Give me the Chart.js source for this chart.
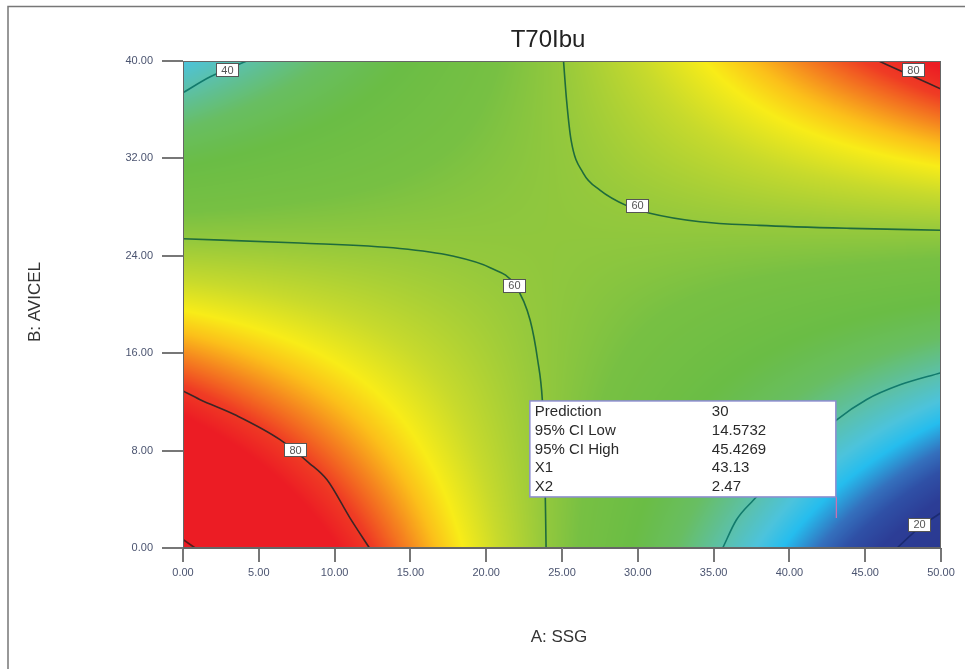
<!DOCTYPE html>
<html>
<head>
<meta charset="utf-8">
<script src="https://cdn.jsdelivr.net/npm/chart.js@4.4.1/dist/chart.umd.min.js"></script>
<style>
html,body{margin:0;padding:0;background:#fff;}
#wrap{width:965px;height:669px;position:relative;}
</style>
</head>
<body>
<div id="wrap"><canvas id="c" width="965" height="669"></canvas></div>
<script>
// ---- data ----
const chartTitle = "T70Ibu";
const xAxisTitle = "A: SSG";
const yAxisTitle = "B: AVICEL";
const xTickValues = [0, 5, 10, 15, 20, 25, 30, 35, 40, 45, 50];
const yTickValues = [0, 8, 16, 24, 32, 40];

// grid of the response surface (rows = B: AVICEL, columns = A: SSG)
const ssgGrid = [0, 5, 10, 15, 20, 25, 30, 35, 40, 45, 50];
const avicelGrid = [0, 4, 8, 12, 16, 20, 24, 28, 32, 36, 40];
const t70_B00 = [100.6, 92.0, 83.5, 74.9, 66.4, 57.8, 49.3, 40.7, 32.2, 23.7, 15.1];
const t70_B04 = [94.1, 86.9, 79.7, 72.5, 65.3, 58.0, 50.8, 43.6, 36.4, 29.2, 22.0];
const t70_B08 = [87.6, 81.8, 75.9, 70.0, 64.1, 58.3, 52.4, 46.5, 40.6, 34.8, 28.9];
const t70_B12 = [81.2, 76.6, 72.1, 67.6, 63.0, 58.5, 53.9, 49.4, 44.9, 40.3, 35.8];
const t70_B16 = [74.7, 71.5, 68.3, 65.1, 61.9, 58.7, 55.5, 52.3, 49.1, 45.9, 42.7];
const t70_B20 = [68.2, 66.4, 64.5, 62.6, 60.8, 58.9, 57.0, 55.2, 53.3, 51.4, 49.6];
const t70_B24 = [61.8, 61.3, 60.7, 60.2, 59.6, 59.1, 58.6, 58.0, 57.5, 57.0, 56.4];
const t70_B28 = [55.3, 56.1, 56.9, 57.7, 58.5, 59.3, 60.1, 60.9, 61.7, 62.5, 63.3];
const t70_B32 = [48.9, 51.0, 53.1, 55.3, 57.4, 59.5, 61.7, 63.8, 66.0, 68.1, 70.2];
const t70_B36 = [42.4, 45.9, 49.3, 52.8, 56.3, 59.8, 63.2, 66.7, 70.2, 73.6, 77.1];
const t70_B40 = [35.9, 40.7, 45.5, 50.4, 55.2, 60.0, 64.8, 69.6, 74.4, 79.2, 84.0];
const t70Grid = [t70_B00, t70_B04, t70_B08, t70_B12, t70_B16, t70_B20, t70_B24, t70_B28, t70_B32, t70_B36, t70_B40];

// contour lines [A, B]
const contour100 = [[0, 0.7], [0.8, 0]];
const contour80Low = [[0, 12.9], [1.1, 12.2], [3.5, 10.9], [6.4, 8.9], [8.3, 7.0], [9.5, 5.6], [11.0, 2.5], [12.3, 0]];
const contour60Low = [[0, 25.4], [7.7, 25.05], [14.3, 24.6], [17.7, 24.0], [20.3, 23.0], [21.9, 21.6], [22.9, 18.7], [23.4, 15.4], [23.7, 12.2], [23.85, 8], [23.95, 0]];
const contour60Up = [[25.1, 40], [25.3, 36.8], [25.6, 33.5], [26.4, 30.8], [27.5, 29.4], [29.3, 28.1], [30.8, 27.5], [34.1, 26.8], [38, 26.5], [44, 26.25], [50, 26.1]];
const contour80Up = [[45.9, 40], [47.5, 39.1], [50, 37.7]];
const contour40Left = [[0, 37.4], [1.8, 38.7], [2.9, 39.3], [4.2, 40]];
const contour40Right = [[35.6, 0], [36.5, 2.3], [37.6, 3.9], [40, 6.9], [43.1, 10.5], [45.1, 12.2], [47.3, 13.4], [50, 14.4]];
const contour20 = [[47.1, 0], [48.5, 1.6], [50, 2.9]];

// contour labels
const labelTexts = ["40", "80", "60", "60", "80", "20"];
const labelA = [2.9, 48.15, 29.95, 21.83, 7.39, 48.55];
const labelB = [39.3, 39.3, 28.17, 21.6, 8.05, 1.97];

// prediction flag
const flagPoint = [43.13, 2.47];
const infoNames = ["Prediction", "95% CI Low", "95% CI High", "X1", "X2"];
const infoValues = ["30", "14.5732", "45.4269", "43.13", "2.47"];

// ---- styling ----
const colorStops = [
  [14, '#2a3990'], [22, '#2c3d96'], [26, '#2f50a6'], [29, '#3470bd'], [33, '#25bdee'],
  [36, '#4cc3dc'], [40, '#5cc0a8'], [45, '#68be62'], [50, '#6abd45'],
  [56, '#77c043'], [60, '#96c93c'], [65, '#c8da2c'], [69, '#f8ec18'],
  [72, '#fbbf1a'], [75, '#f5851f'], [79, '#ef3c24'], [83, '#ec1c24'], [120, '#ec1c24']
];
function hex2rgb(h){return [parseInt(h.substr(1,2),16),parseInt(h.substr(3,2),16),parseInt(h.substr(5,2),16)];}
const stopRGB = colorStops.map(s => [s[0], hex2rgb(s[1])]);
function colorFor(v){
  if (v <= stopRGB[0][0]) return stopRGB[0][1];
  for (let i = 0; i < stopRGB.length - 1; i++) {
    const a = stopRGB[i], b = stopRGB[i+1];
    if (v <= b[0]) {
      const t = (v - a[0]) / (b[0] - a[0]);
      return [a[1][0] + (b[1][0]-a[1][0])*t, a[1][1] + (b[1][1]-a[1][1])*t, a[1][2] + (b[1][2]-a[1][2])*t];
    }
  }
  return stopRGB[stopRGB.length-1][1];
}
function locate(arr, v){
  let i = 0;
  while (i < arr.length - 2 && v > arr[i+1]) i++;
  let t = (v - arr[i]) / (arr[i+1] - arr[i]);
  t = Math.max(0, Math.min(1, t));
  return [i, t];
}
function surface(a, b){
  const [i, tx] = locate(ssgGrid, a);
  const [j, ty] = locate(avicelGrid, b);
  const v00 = t70Grid[j][i], v10 = t70Grid[j][i+1], v01 = t70Grid[j+1][i], v11 = t70Grid[j+1][i+1];
  return v00*(1-tx)*(1-ty) + v10*tx*(1-ty) + v01*(1-tx)*ty + v11*tx*ty;
}

const heatmapPlugin = {
  id: 'heatmap',
  beforeDatasetsDraw(chart){
    const {ctx, chartArea: ar, scales: {x, y}} = chart;
    const w = Math.round(ar.right - ar.left), h = Math.round(ar.bottom - ar.top);
    const off = document.createElement('canvas');
    off.width = w; off.height = h;
    const octx = off.getContext('2d');
    const img = octx.createImageData(w, h);
    const xv = [];
    for (let px = 0; px < w; px++) xv.push(x.getValueForPixel(ar.left + px + 0.5));
    for (let py = 0; py < h; py++) {
      const yv = y.getValueForPixel(ar.top + py + 0.5);
      for (let px = 0; px < w; px++) {
        const c = colorFor(surface(xv[px], yv));
        const k = (py*w + px)*4;
        img.data[k] = c[0]; img.data[k+1] = c[1]; img.data[k+2] = c[2]; img.data[k+3] = 255;
      }
    }
    octx.putImageData(img, 0, 0);
    ctx.save();
    ctx.drawImage(off, ar.left, ar.top);
    ctx.restore();
  },
  afterDatasetsDraw(chart){
    const {ctx, chartArea: ar, scales: {x, y}} = chart;
    ctx.save();
    // plot frame
    ctx.strokeStyle = '#666';
    ctx.lineWidth = 1;
    ctx.strokeRect(ar.left + 0.5, ar.top + 0.5, ar.right - ar.left - 1, ar.bottom - ar.top - 1);
    // contour labels
    ctx.font = '11px "Liberation Sans", Arial, sans-serif';
    ctx.textAlign = 'center';
    ctx.textBaseline = 'middle';
    for (let i = 0; i < labelTexts.length; i++) {
      const px = x.getPixelForValue(labelA[i]), py = y.getPixelForValue(labelB[i]);
      const bw = 22, bh = 13;
      ctx.fillStyle = '#fff';
      ctx.fillRect(Math.round(px - bw/2) + 0.5, Math.round(py - bh/2) + 0.5, bw, bh);
      ctx.strokeStyle = '#555';
      ctx.lineWidth = 1;
      ctx.strokeRect(Math.round(px - bw/2) + 0.5, Math.round(py - bh/2) + 0.5, bw, bh);
      ctx.fillStyle = '#555';
      ctx.fillText(labelTexts[i], px + 0.5, py + 1);
    }
    // prediction flag and info box
    const fx = x.getPixelForValue(flagPoint[0]), fy = y.getPixelForValue(flagPoint[1]);
    const boxR = fx - 1, boxB = fy - 21, boxW = 306, boxH = 96;
    ctx.strokeStyle = '#d070b0';
    ctx.lineWidth = 1.2;
    ctx.beginPath(); ctx.moveTo(fx - 0.5, boxB); ctx.lineTo(fx - 0.5, fy); ctx.stroke();
    ctx.fillStyle = '#fff';
    ctx.fillRect(boxR - boxW, boxB - boxH, boxW, boxH);
    ctx.strokeStyle = '#8c8cd0';
    ctx.lineWidth = 1.5;
    ctx.strokeRect(boxR - boxW, boxB - boxH, boxW, boxH);
    ctx.fillStyle = '#2a2a2a';
    ctx.font = '15px "Liberation Sans", Arial, sans-serif';
    ctx.textAlign = 'left';
    ctx.textBaseline = 'middle';
    for (let i = 0; i < infoNames.length; i++) {
      const ty = boxB - boxH + 11 + i*18.8;
      ctx.fillText(infoNames[i], boxR - boxW + 5, ty);
      ctx.fillText(infoValues[i], boxR - boxW + 182, ty);
    }
    ctx.restore();
  },
  afterDraw(chart){
    const {ctx} = chart;
    ctx.save();
    // outer frame (top and left)
    ctx.strokeStyle = '#777';
    ctx.lineWidth = 1.5;
    ctx.beginPath();
    ctx.moveTo(8, 669); ctx.lineTo(8, 6.5); ctx.lineTo(965, 6.5);
    ctx.stroke();
    // titles
    ctx.fillStyle = '#222';
    ctx.textAlign = 'center';
    ctx.textBaseline = 'middle';
    ctx.font = '24px "Liberation Sans", Arial, sans-serif';
    ctx.fillText(chartTitle, 548, 40);
    ctx.fillStyle = '#333';
    ctx.font = '17px "Liberation Sans", Arial, sans-serif';
    ctx.fillText(xAxisTitle, 559, 637);
    ctx.translate(35, 302);
    ctx.rotate(-Math.PI/2);
    ctx.fillText(yAxisTitle, 0, 0);
    ctx.restore();
  }
};

function contourDataset(points, color){
  return {
    type: 'line',
    data: points.map(p => ({x: p[0], y: p[1]})),
    borderColor: color,
    borderWidth: 1.6,
    pointRadius: 0,
    fill: false,
    cubicInterpolationMode: 'monotone',
    clip: 0
  };
}

const tickFont = {family: '"Liberation Sans", Arial, sans-serif', size: 11};

new Chart(document.getElementById('c'), {
  type: 'line',
  data: {
    datasets: [
      contourDataset(contour100, '#5a1a1a'),
      contourDataset(contour80Low, '#3c2626'),
      contourDataset(contour60Low, '#1f6b3c'),
      contourDataset(contour60Up, '#1f6b3c'),
      contourDataset(contour80Up, '#3c2626'),
      contourDataset(contour40Left, '#127a6c'),
      contourDataset(contour40Right, '#127a6c'),
      contourDataset(contour20, '#1b2b72')
    ]
  },
  options: {
    responsive: false,
    animation: false,
    layout: {padding: {top: 61, right: 24, bottom: 0, left: 0}},
    plugins: {legend: {display: false}, tooltip: {enabled: false}, title: {display: false}},
    scales: {
      x: {
        type: 'linear', min: 0, max: 50,
        afterBuildTicks(s){ s.ticks = xTickValues.map(v => ({value: v})); },
        afterFit(s){ s.height = 121; },
        ticks: {callback: v => Number(v).toFixed(2), font: tickFont, color: '#4b5470', padding: 4, maxRotation: 0, autoSkip: false},
        grid: {drawOnChartArea: false, drawTicks: true, tickLength: 14, color: '#777', lineWidth: 2},
        border: {display: true, color: '#666', width: 1}
      },
      y: {
        type: 'linear', min: 0, max: 40,
        afterBuildTicks(s){ s.ticks = yTickValues.map(v => ({value: v})); },
        afterFit(s){ s.width = 183; },
        ticks: {callback: v => Number(v).toFixed(2), font: tickFont, color: '#4b5470', padding: 9, autoSkip: false},
        grid: {drawOnChartArea: false, drawTicks: true, tickLength: 21, color: '#777', lineWidth: 2},
        border: {display: true, color: '#666', width: 1}
      }
    }
  },
  plugins: [heatmapPlugin]
});
</script>
</body>
</html>
